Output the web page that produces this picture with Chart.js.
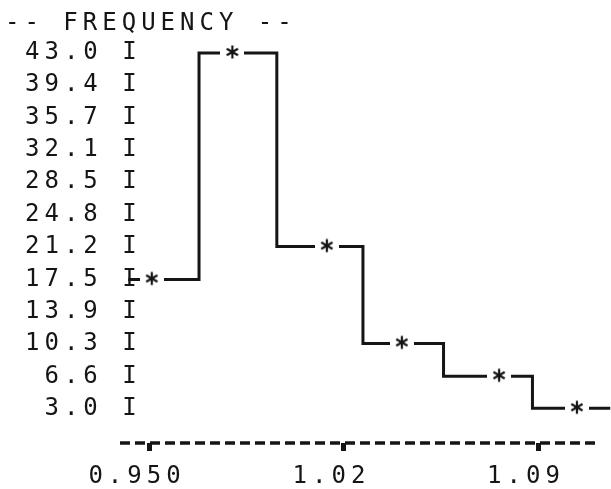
<!DOCTYPE html>
<html lang="en">
<head>
<meta charset="UTF-8">
<title>Frequency</title>
<script src="https://cdn.jsdelivr.net/npm/chart.js"></script>
<style>
  html, body { margin: 0; padding: 0; background: #fff; }
  #wrap { width: 611px; height: 489px; }
</style>
</head>
<body>
<div id="wrap"><canvas id="freqChart" width="611" height="489"></canvas></div>
<script>
// values
const starX = [0.951, 0.980, 1.014, 1.041, 1.076, 1.104];
const freq = [17.5, 43.0, 21.2, 10.3, 6.6, 3.0];
// x where each step of the outline starts (last one = where the line ends on the right)
const stepX = [0.9425, 0.968, 0.996, 1.027, 1.056, 1.088, 1.116];
const yTickLabels = ['43.0', '39.4', '35.7', '32.1', '28.5', '24.8', '21.2', '17.5', '13.9', '10.3', '6.6', '3.0'];
const xTickValues = [0.950, 1.02, 1.09];
const xTickLabels = ['0.950', '1.02', '1.09'];

const ink = '#151515';

// printer asterisk on a white patch so the line breaks around it
function makeStar() {
    const c = document.createElement('canvas');
    c.width = 24; c.height = 18;
    const g = c.getContext('2d');
    g.fillStyle = '#fff';
    g.fillRect(0, 0, 24, 18);
    g.strokeStyle = ink;
    g.lineWidth = 2.2;
    const r = 6.5, cx = 12, cy = 8;
    [90, 30, 150].forEach(a => {
        const dx = Math.cos(a * Math.PI / 180) * r;
        const dy = Math.sin(a * Math.PI / 180) * r;
        g.beginPath();
        g.moveTo(cx - dx, cy - dy);
        g.lineTo(cx + dx, cy + dy);
        g.stroke();
    });
    return c;
}

// spread the letters like the line printer does
const spacing = {
    id: 'spacing',
    beforeDraw(chart) { chart.ctx.letterSpacing = '5px'; }
};

// the printed x axis is a row of dashes
const dashedAxis = {
    id: 'dashedAxis',
    beforeDatasetsDraw(chart) {
        const s = chart.scales.x;
        const ctx = chart.ctx;
        ctx.save();
        ctx.strokeStyle = ink;
        ctx.lineWidth = 3.5;
        ctx.setLineDash([10, 5]);
        ctx.beginPath();
        ctx.moveTo(s.left, s.top);
        ctx.lineTo(s.right, s.top);
        ctx.stroke();
        ctx.restore();
    }
};

Chart.defaults.font.family = "'DejaVu Sans Mono', monospace";
Chart.defaults.font.size = 24;
Chart.defaults.color = ink;

const stepData = stepX.map((x, i) => ({ x, y: freq[Math.min(i, freq.length - 1)] }));
const starData = starX.map((x, i) => ({ x, y: freq[i] }));

new Chart(document.getElementById('freqChart'), {
    type: 'scatter',
    data: {
        datasets: [
            {
                data: starData,
                showLine: false,
                pointStyle: makeStar(),
                pointRadius: 9
            },
            {
                data: stepData,
                showLine: true,
                stepped: 'before',
                borderColor: ink,
                borderWidth: 3,
                pointRadius: 0,
                clip: false
            }
        ]
    },
    options: {
        responsive: false,
        animation: false,
        layout: { padding: { left: 5, right: 11, top: 0, bottom: 0 } },
        plugins: {
            legend: { display: false },
            tooltip: { enabled: false },
            title: {
                display: true,
                text: '-- FREQUENCY --',
                align: 'start',
                color: ink,
                font: { size: 24, weight: 'normal', lineHeight: 1.2 },
                padding: { top: 9, bottom: 0 }
            }
        },
        scales: {
            x: {
                type: 'linear',
                min: 0.93956,
                max: 1.11231,
                afterBuildTicks: s => { s.ticks = xTickValues.map(v => ({ value: v })); },
                afterFit: s => { s.height = 46; },
                border: { display: false },
                grid: { drawOnChartArea: false, drawTicks: true, tickLength: 8, tickWidth: 5, tickColor: ink },
                ticks: {
                    autoSkip: false,
                    maxRotation: 0,
                    padding: 11,
                    labelOffset: -12,
                    callback: (v, i) => xTickLabels[i]
                }
            },
            y: {
                min: -0.91,
                max: 44.71,
                afterBuildTicks: s => { s.ticks = yTickLabels.map(t => ({ value: parseFloat(t) })); },
                afterFit: s => { s.width = 115; },
                border: { display: false },
                grid: { display: false, drawTicks: false },
                ticks: {
                    autoSkip: false,
                    mirror: true,
                    padding: -95,
                    callback: (v, i) => yTickLabels[i].padStart(4, ' ') + ' I'
                }
            }
        }
    },
    plugins: [spacing, dashedAxis]
});
</script>
</body>
</html>
